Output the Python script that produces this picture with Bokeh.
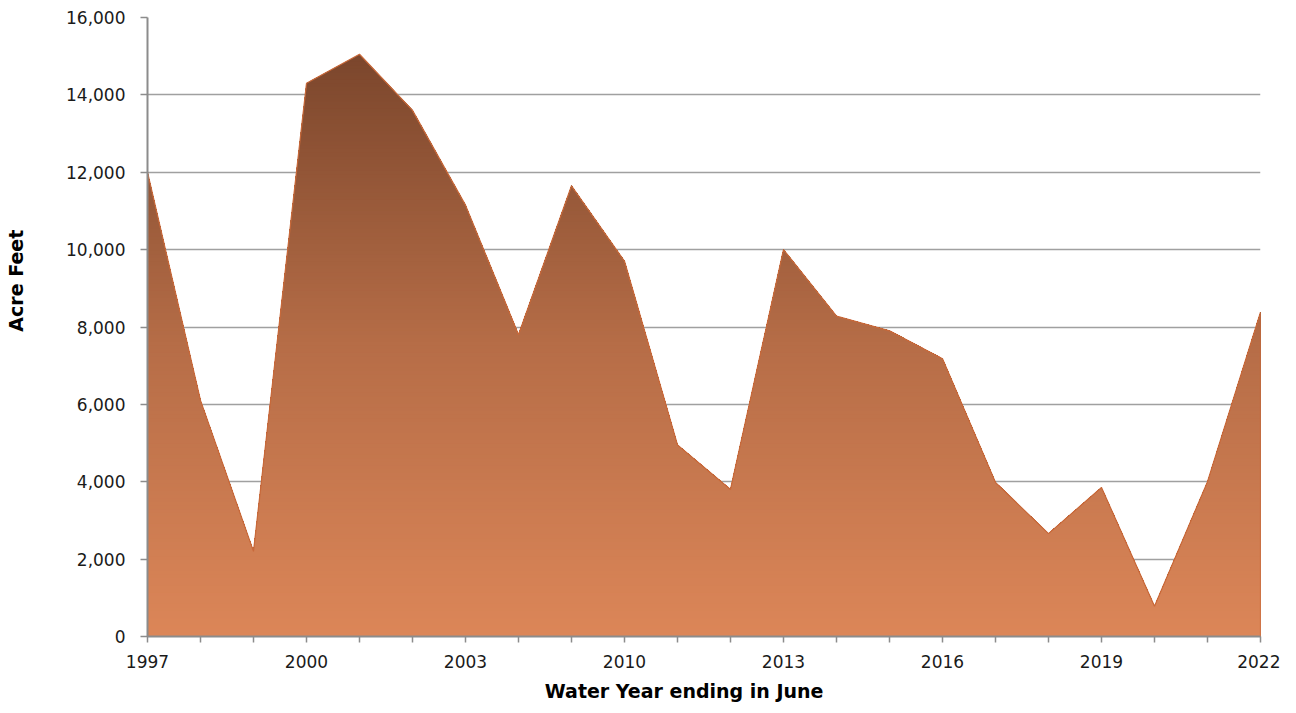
from bokeh.plotting import figure
from bokeh.models import FixedTicker, NumeralTickFormatter, Range1d
from bokeh.embed import file_html
from bokeh.resources import INLINE

# ---- data ----
years = ["1997", "1998", "1999", "2000", "2001", "2002", "2003", "2008", "2009",
         "2010", "2011", "2012", "2013", "2014", "2015", "2016", "2017", "2018",
         "2019", "2020", "2021", "2022"]
acre_feet = [12000, 6100, 2200, 14300, 15050, 13600, 11150, 7800, 11650,
             9700, 4950, 3800, 10000, 8280, 7900, 7180, 3980, 2660,
             3850, 780, 4000, 8380]
y_ticks = [0, 2000, 4000, 6000, 8000, 10000, 12000, 14000, 16000]
label_every = 3
x_title = "Water Year ending in June"
y_title = "Acre Feet"

FONT = "DejaVu Sans"
# gradient stops (fraction of max height -> colour)
stops = [(0.0, (0xdc, 0x86, 0x58)), (0.5, (0xb6, 0x6d, 0x47)), (1.0, (0x7b, 0x46, 0x2c))]

xs = list(range(len(years)))
YMAX_AXIS = y_ticks[-1]

W, H = 1280, 705
BL, BR, BT, BB = 147, 20, 17, 69
p = figure(width=W, height=H, output_backend="svg", toolbar_location=None,
           x_range=Range1d(0, len(years) - 1), y_range=Range1d(0, YMAX_AXIS),
           min_border_left=BL, min_border_right=BR, min_border_top=BT,
           min_border_bottom=BB)
p.outline_line_color = None
p.background_fill_color = "white"
p.border_fill_color = "white"


def grad(f):
    for (f0, c0), (f1, c1) in zip(stops[:-1], stops[1:]):
        if f <= f1:
            t = (f - f0) / (f1 - f0)
            return "#%02x%02x%02x" % tuple(int(round(c0[j] + (c1[j] - c0[j]) * t)) for j in range(3))
    return "#%02x%02x%02x" % stops[-1][1]


def clipped(level):
    """Polyline of min(curve, level) with exact crossing points."""
    px, py = [], []
    for i in range(len(xs)):
        x0, y0 = xs[i], acre_feet[i]
        px.append(x0)
        py.append(min(y0, level))
        if i + 1 < len(xs):
            x1, y1 = xs[i + 1], acre_feet[i + 1]
            if (y0 - level) * (y1 - level) < 0:
                t = (level - y0) / (y1 - y0)
                px.append(x0 + t * (x1 - x0))
                py.append(level)
    return px, py


ymax = max(acre_feet)
n_bands = 160
for k in range(n_bands, 0, -1):
    level = ymax * k / n_bands
    f = (level - ymax / n_bands / 2) / ymax
    bx, by = clipped(level)
    p.varea(x=bx, y1=[0] * len(bx), y2=by, fill_color=grad(f), fill_alpha=1.0)

# outline of the area, including its vertical ends
p.line([xs[0]] + xs + [xs[-1]], [0] + acre_feet + [0], line_color="#c8693a", line_width=1.2)

# axes
p.xaxis.ticker = FixedTicker(ticks=xs)
p.xaxis.major_label_overrides = {i: (years[i] if i % label_every == 0 else "") for i in xs}
p.yaxis.ticker = FixedTicker(ticks=y_ticks)
p.yaxis.formatter = NumeralTickFormatter(format="0,0")

for ax in (p.xaxis[0], p.yaxis[0]):
    ax.axis_line_color = "#8c8c8c"
    ax.axis_line_width = 2
    ax.major_tick_line_color = "#8c8c8c"
    ax.major_tick_line_width = 1.5
    ax.minor_tick_line_color = None
    ax.major_tick_in = 0
    ax.major_label_text_font = FONT
    ax.major_label_text_font_size = "17px"
    ax.major_label_text_color = "#1a1a1a"
    ax.axis_label_text_font = FONT
    ax.axis_label_text_font_style = "bold"
    ax.axis_label_text_color = "#000000"

p.xaxis.major_tick_out = 6
p.yaxis.major_tick_out = 7
p.xaxis.major_label_standoff = 12
p.yaxis.major_label_standoff = 15

# titles sit a little off-centre in the original: pad with no-break spaces
NB = "\u00a0"
p.xaxis.axis_label = x_title + NB * 6
p.xaxis.axis_label_text_font_size = "19px"
p.xaxis.axis_label_standoff = 9
p.yaxis.axis_label = NB * 14 + y_title
p.yaxis.axis_label_text_font_size = "19px"
p.yaxis.axis_label_standoff = 36

p.xgrid.grid_line_color = None
p.ygrid.grid_line_color = "#a0a0a0"
p.ygrid.grid_line_width = 1.5
p.ygrid.ticker = FixedTicker(ticks=y_ticks)

open("out.html", "w").write(file_html(p, INLINE))
